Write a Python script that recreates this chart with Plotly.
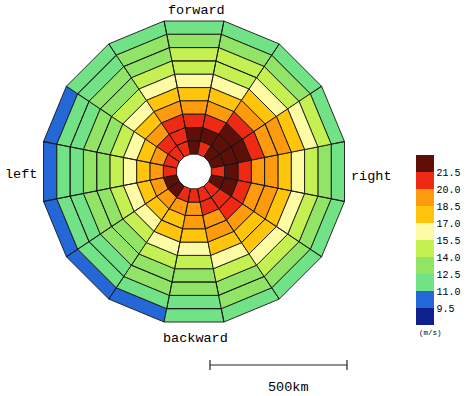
import numpy as np
import plotly.graph_objects as go

# ---------------- data ----------------
# sector directions (deg, clockwise from "forward"), 16 sectors
sector_deg = [0.0, 22.5, 45.0, 67.5, 90.0, 112.5, 135.0, 157.5,
              180.0, 202.5, 225.0, 247.5, 270.0, 292.5, 315.0, 337.5]
# ring edges (distance from centre, km)
ring_edges_km = [65, 115, 165, 215, 265, 315, 365, 415, 465, 515, 565]
# wind speed (m/s) per sector (rows) and ring (columns, inner -> outer)
wind = [
    [22.3, 22.2, 20.8, 19.3, 17.8, 16.2, 14.9, 14.3, 13.2, 11.9],  # 0   forward
    [21.0, 22.4, 21.0, 19.4, 17.9, 16.1, 14.8, 14.2, 13.3, 12.0],  # 22.5
    [22.5, 22.6, 22.1, 20.6, 19.2, 17.7, 16.1, 14.7, 13.4, 12.1],  # 45
    [22.6, 22.8, 22.0, 20.5, 19.3, 18.7, 17.6, 16.0, 14.6, 12.2],  # 67.5
    [21.1, 22.7, 20.9, 19.5, 18.9, 17.8, 16.2, 14.7, 13.4, 12.2],  # 90  right
    [22.2, 22.3, 20.7, 19.4, 18.8, 17.6, 16.1, 14.6, 13.3, 12.0],  # 112.5
    [21.0, 20.8, 20.3, 19.1, 18.2, 17.3, 16.0, 14.5, 13.2, 11.9],  # 135
    [20.9, 20.4, 19.4, 18.7, 17.6, 16.0, 14.6, 13.5, 12.9, 11.8],  # 157.5
    [20.7, 19.6, 18.8, 17.9, 16.1, 14.6, 13.4, 12.9, 12.2, 11.6],  # 180 backward
    [20.6, 19.3, 18.2, 17.4, 16.0, 14.5, 13.3, 12.8, 11.9, 10.6],  # 202.5
    [22.0, 19.2, 17.9, 16.1, 14.6, 13.3, 12.8, 12.1, 11.6, 10.4],  # 225
    [21.8, 19.1, 17.8, 16.0, 14.5, 13.2, 12.7, 12.0, 11.5, 10.3],  # 247.5
    [20.5, 19.0, 17.7, 15.9, 14.4, 13.3, 12.7, 12.1, 11.5, 10.3],  # 270 left
    [20.6, 19.1, 17.6, 15.8, 14.4, 13.2, 12.6, 12.0, 11.4, 10.5],  # 292.5
    [20.7, 20.2, 19.0, 17.5, 16.0, 14.5, 13.3, 12.7, 12.1, 11.3],  # 315
    [20.8, 20.6, 20.3, 19.1, 17.7, 16.1, 14.6, 13.5, 12.8, 11.7],  # 337.5
]
# colour classes (m/s)
class_edges = [8.0, 9.5, 11.0, 12.5, 14.0, 15.5, 17.0, 18.5, 20.0, 21.5, 23.0]
class_colors = ["#0e1f8e", "#2468d8", "#72e286", "#92e466", "#c4f052",
                "#fdfca4", "#ffc40c", "#fd9a0e", "#ee2a14", "#5e1008"]
tick_vals = [9.5, 11.0, 12.5, 14.0, 15.5, 17.0, 18.5, 20.0, 21.5]
tick_labels = ["9.5", "11.0", "12.5", "14.0", "15.5", "17.0", "18.5", "20.0", "21.5"]

# ---------------- figure ----------------
W, H = 470, 396

def px(x):   # page x pixel -> paper fraction
    return x / W

def py(y):   # page y pixel -> paper fraction
    return (H - y) / H

half = 360.0 / len(sector_deg) / 2.0
cosf = np.cos(np.radians(half))
wind_arr = np.array(wind)

fig = go.Figure()
for ci, col in enumerate(class_colors):
    lo, hi = class_edges[ci], class_edges[ci + 1]
    rr, tt = [], []
    for s, deg in enumerate(sector_deg):
        for k in range(len(ring_edges_km) - 1):
            v = wind_arr[s, k]
            if (lo <= v < hi) or (ci == len(class_colors) - 1 and v >= lo):
                r0 = ring_edges_km[k] / cosf
                r1 = ring_edges_km[k + 1] / cosf
                ta, tb = deg - half, deg + half
                rr += [r0, r1, r1, r0, r0, None]
                tt += [ta, ta, tb, tb, ta, None]
    if rr:
        fig.add_trace(go.Scatterpolar(
            r=rr, theta=tt, mode="lines", fill="toself", fillcolor=col,
            line=dict(color="#161616", width=0.9), hoverinfo="skip",
            showlegend=False, connectgaps=False))

# colour bar (discrete)
cscale = []
n = len(class_colors)
for i, c in enumerate(class_colors):
    cscale.append([i / n, c])
    cscale.append([(i + 1) / n, c])
fig.add_trace(go.Scatterpolar(
    r=[0], theta=[0], mode="markers", hoverinfo="skip", showlegend=False,
    marker=dict(size=1, opacity=0, color=[15.0], cmin=class_edges[0], cmax=class_edges[-1],
                colorscale=cscale, showscale=True,
                colorbar=dict(x=px(416), xanchor="left", y=py(240), yanchor="middle",
                              len=170, lenmode="pixels", thickness=18, thicknessmode="pixels",
                              outlinewidth=0, tickvals=tick_vals, ticktext=tick_labels,
                              ticks="", xpad=0, ypad=0,
                              tickfont=dict(family="Liberation Mono", size=10, color="black")))))

# polar geometry: centre (194,171.5) px, outer apothem 150.5 px
cx, cy, apo = 194.0, 171.5, 150.5
pad = 1.02
Rpx = apo / cosf * pad
Rmax = ring_edges_km[-1] / cosf * pad
fig.update_layout(
    width=W, height=H, margin=dict(l=0, r=0, t=0, b=0),
    paper_bgcolor="white", plot_bgcolor="white", showlegend=False,
    polar=dict(
        domain=dict(x=[px(cx - Rpx), px(cx + Rpx)],
                    y=[py(cy + Rpx), py(cy - Rpx)]),
        bgcolor="white",
        radialaxis=dict(range=[0, Rmax], visible=False),
        angularaxis=dict(rotation=90, direction="clockwise", visible=False),
    ),
)

mono = dict(family="Liberation Mono", size=13.5, color="black")
def ann(text, x, y, font=mono):
    fig.add_annotation(text=text, x=px(x), y=py(y), xref="paper", yref="paper",
                       showarrow=False, font=font, xanchor="center", yanchor="middle")

ann("forward", 196, 10)
ann("backward", 195, 338)
ann("left", 21, 174)
ann("right", 371, 176)
ann("500km", 288, 387)
ann("(m/s)", 430, 333, dict(family="Liberation Mono", size=7.5, color="black"))

# scale bar (500 km)
sx0, sx1, sy = 210, 347, 365
fig.add_shape(type="line", xref="paper", yref="paper", x0=px(sx0), x1=px(sx1),
              y0=py(sy), y1=py(sy), line=dict(color="#222", width=1.2))
for sx in (sx0, sx1):
    fig.add_shape(type="line", xref="paper", yref="paper", x0=px(sx), x1=px(sx),
                  y0=py(sy + 5), y1=py(sy - 5), line=dict(color="#222", width=1.2))

# remove the browser's default 8px page margin so the figure sits at the window corner
fig.write_html("out.html", config={"displayModeBar": False},
               post_script="document.body.style.margin='0px';")
